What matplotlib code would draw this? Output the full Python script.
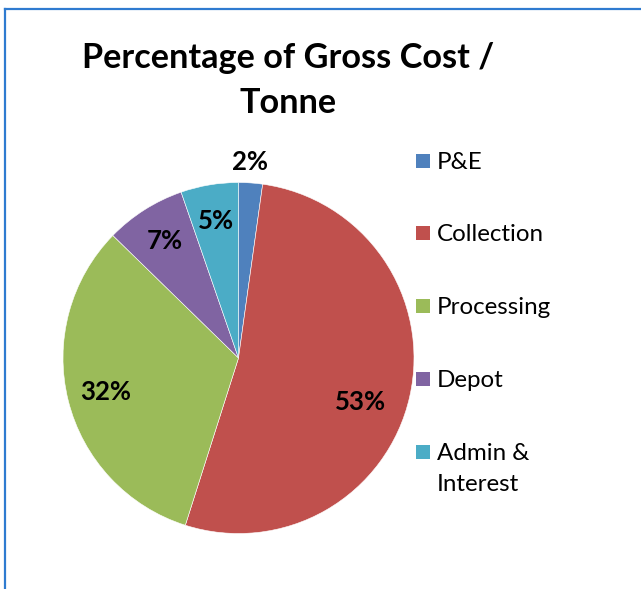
import numpy as np
import matplotlib
matplotlib.use("Agg")
import matplotlib.pyplot as plt
from matplotlib.patches import Rectangle
from matplotlib.lines import Line2D

# Share of gross cost per tonne, by cost area
categories = ["P&E", "Collection", "Processing", "Depot", "Admin &\nInterest"]
shares = [2.2, 52.7, 32.4, 7.4, 5.3]
colors = ["#4F81BD", "#C0504D", "#9BBB59", "#8064A2", "#4BACC6"]
title = "Percentage of Gross Cost /\nTonne"

W, H = 641, 589
fig = plt.figure(figsize=(W / 100, H / 100), dpi=100)

# chart-area frame (left and top edges fall inside the image)
frame_color = "#2F7BD0"
fig.add_artist(Line2D([4.5 / W, 4.5 / W], [0, 1 - 9 / H], transform=fig.transFigure,
                      color=frame_color, lw=1.6))
fig.add_artist(Line2D([4.5 / W, 1], [1 - 9 / H, 1 - 9 / H], transform=fig.transFigure,
                      color=frame_color, lw=1.6))

FONT = "Lato"

fig.text(288 / W, 1 - 80.5 / H, title, ha="center", va="center", fontsize=24.7,
         fontweight="bold", family=FONT, linespacing=1.47)

# pie plot area
cx, cy, R = 238.5, 358.0, 175.5
ax = fig.add_axes([(cx - R) / W, 1 - (cy + R) / H, 2 * R / W, 2 * R / H])
wedges, _ = ax.pie(shares, colors=colors, startangle=90, counterclock=False,
                   radius=1.0, wedgeprops=dict(edgecolor="white", linewidth=0.4))
ax.set_xlim(-1, 1)
ax.set_ylim(-1, 1)
ax.set_aspect("equal")
ax.axis("off")

# data labels: radial distance and small angle nudge per slice
label_dist = [1.12, 0.74, 0.78, 0.79, 0.79]
label_nudge = [0.5, -7.0, 0.3, -0.3, -0.2]
total = sum(shares)
for w, v, d, n in zip(wedges, shares, label_dist, label_nudge):
    ang = np.deg2rad((w.theta1 + w.theta2) / 2 + n)
    ax.text(d * np.cos(ang), d * np.sin(ang), f"{v / total * 100:.0f}%",
            ha="center", va="center", fontsize=18.5, fontweight="bold",
            family=FONT, clip_on=False)

# legend
leg_y = [161, 233, 306, 379, 452]
for lab, col, y in zip(categories, colors, leg_y):
    fig.add_artist(Rectangle((416 / W, 1 - (y + 7) / H), 14 / W, 14 / H,
                             transform=fig.transFigure, facecolor=col, edgecolor="none"))
    fig.text(437 / W, 1 - (y - 9) / H, lab, ha="left", va="top", fontsize=17.4,
             family=FONT, linespacing=1.6)

fig.savefig("out.png", dpi=100)
